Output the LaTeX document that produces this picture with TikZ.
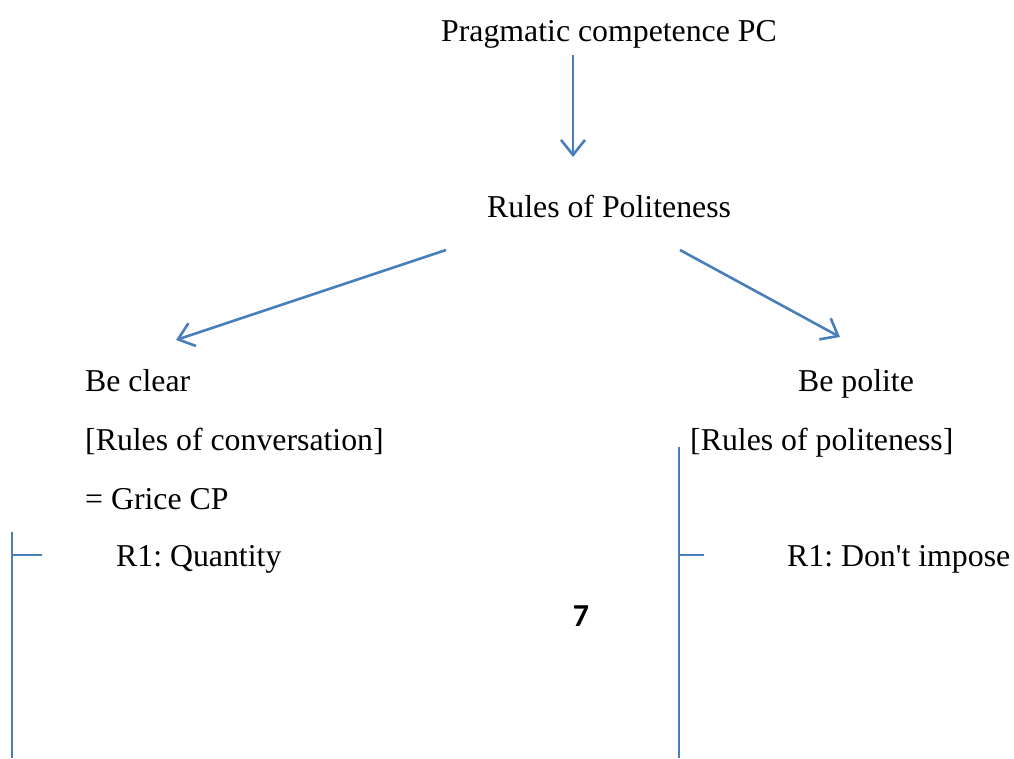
\documentclass[tikz,border=0pt]{standalone}
\usepackage{fontspec}
\setmainfont{Liberation Serif}
\newfontfamily\plainrm{Liberation Serif}[Ligatures=TeXOff]
\newfontfamily\numfont{Carlito}
\usetikzlibrary{arrows.meta}
\definecolor{lineblue}{HTML}{4A7EBB}
\frenchspacing
\tikzset{
  lbl/.style={anchor=base west, inner sep=0pt, font=\fontsize{31.8}{38}\selectfont},
  conn/.style={draw=lineblue, line width=2.6pt, -{Straight Barb[length=15pt,width=24pt,line width=2.6pt]}},
  bracket/.style={draw=lineblue, line width=2.4pt}
}
\begin{document}
\begin{tikzpicture}[x=1pt,y=-1pt]
\useasboundingbox (0,0) rectangle (1014,758);
\node[lbl] (pc) at (441,41) {Pragmatic competence PC};
\node[lbl] (rp) at (487,217) {Rules of Politeness};
\node[lbl] (bc) at (85,391) {Be clear};
\node[lbl] (rc) at (85,450) {[Rules of conversation]};
\node[lbl] (gc) at (85,509) {= Grice CP};
\node[lbl] (rq) at (116,566) {R1: Quantity};
\node[lbl] (bp) at (798,391) {Be polite};
\node[lbl] (rl) at (690,450) {[Rules of politeness]};
\node[lbl] (rd) at (787,566) {\plainrm R1: Don't impose};
\node[anchor=base, inner sep=0pt, font=\numfont\bfseries\fontsize{32}{38}\selectfont] (seven) at (581,626) {7};
\coordinate (a1s) at (573,55);
\coordinate (a1e) at (573,157);
\coordinate (a2s) at (446,250);
\coordinate (a2e) at (176,340);
\coordinate (a3s) at (680,250);
\coordinate (a3e) at (840,337);
\draw[conn] (a1s) -- (a1e);
\draw[conn] (a2s) -- (a2e);
\draw[conn] (a3s) -- (a3e);
\coordinate (lt) at (12,532);
\coordinate (lb) at (12,758);
\coordinate (lk) at (12,555);
\coordinate (lke) at (42,555);
\draw[bracket] (lt) -- (lb);
\draw[bracket] (lk) -- (lke);
\coordinate (rt) at (679,447);
\coordinate (rb) at (679,758);
\coordinate (rk) at (679,555);
\coordinate (rke) at (704,555);
\draw[bracket] (rt) -- (rb);
\draw[bracket] (rk) -- (rke);
\end{tikzpicture}
\end{document}
